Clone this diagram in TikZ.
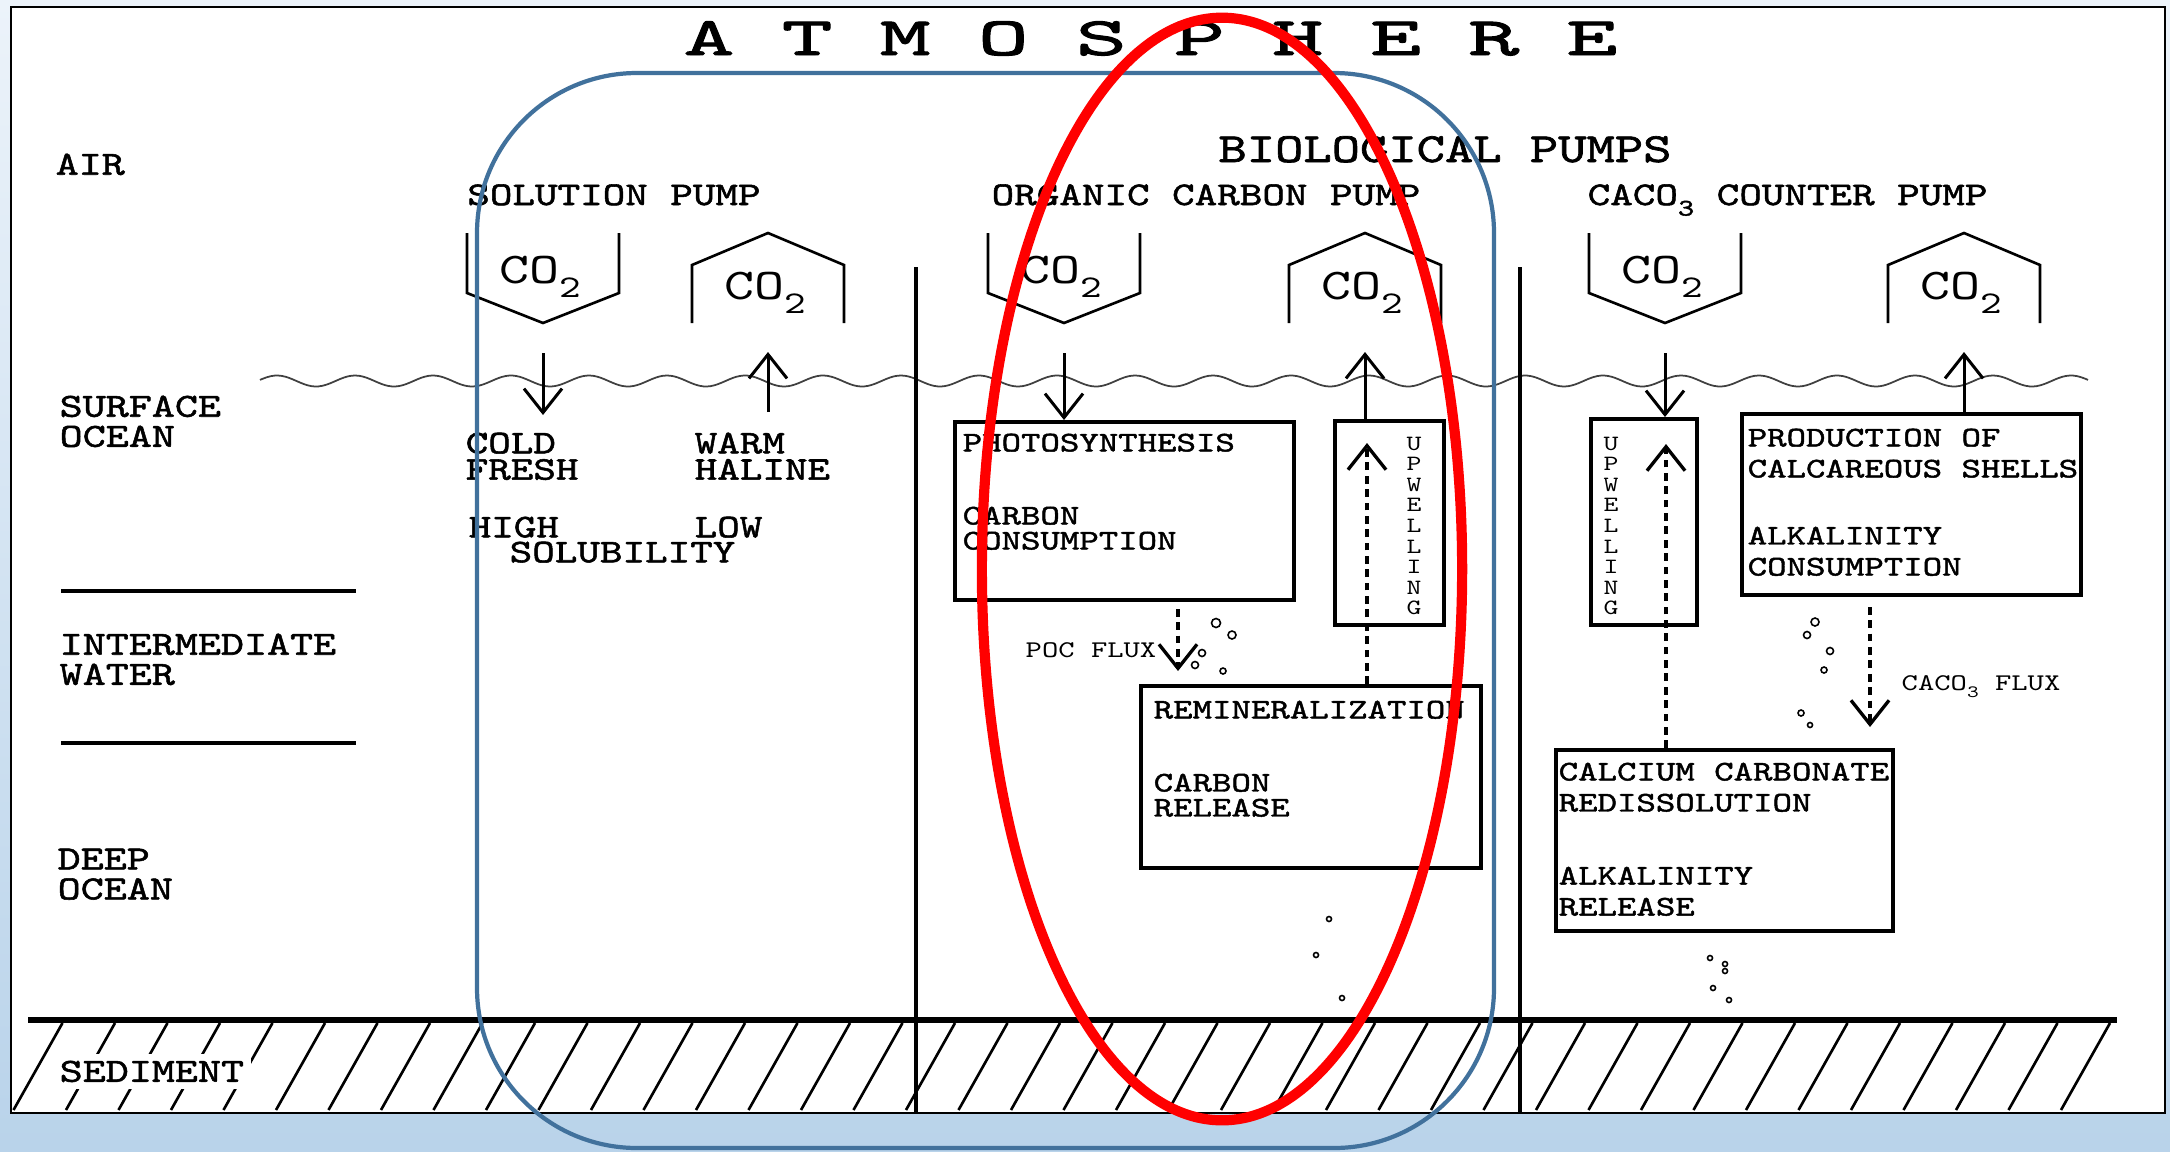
\documentclass[tikz,border=0pt]{standalone}
\usepackage{fontspec}
\usepackage{graphicx}
\usetikzlibrary{arrows.meta}
\newfontfamily\cour[FakeStretch=1.3]{lmmono10-regular.otf}
\newfontfamily\courbf[FakeStretch=1.3, FakeBold=1.6]{lmmono10-regular.otf}
\newfontfamily\courwide[FakeStretch=1.8, FakeBold=1.8]{lmmono10-regular.otf}
\newcommand{\lowsub}[1]{\raisebox{-0.32em}{\scalebox{0.72}{#1}}}
\definecolor{skyback}{RGB}{185,211,234}
\definecolor{skylight}{RGB}{236,243,250}
\definecolor{frameblue}{RGB}{65,113,156}

\begin{document}
\begin{tikzpicture}[x=0.01cm, y=-0.01cm,
  >={Straight Barb[length=0.24cm,width=0.38cm]},
  ttl/.style={font=\courwide\fontsize{15.4}{16}\selectfont, anchor=base, inner sep=0pt},
  layer/.style={font=\courbf\fontsize{9.6}{8.54}\selectfont, align=left, anchor=north west, inner sep=0pt},
  note/.style={font=\courbf\fontsize{9.4}{7.5}\selectfont, align=left, anchor=north west, inner sep=0pt},
  pumplbl/.style={font=\courbf\fontsize{9.4}{10}\selectfont, inner sep=0pt},
  cotxt/.style={font=\cour\fontsize{12.5}{13}\selectfont, inner sep=0pt, anchor=base},
  vessel/.style={line width=0.75pt, line join=miter},
  procbox/.style={draw, line width=1.1pt, anchor=north west, inner sep=0pt},
  boxtxt/.style={font=\courbf\fontsize{8.1}{7.11}\selectfont, align=left, anchor=north west, inner sep=0pt},
  boxtxtw/.style={font=\courbf\fontsize{8.1}{8.82}\selectfont, align=left, anchor=north west, inner sep=0pt},
  vword/.style={font=\cour\fontsize{6.2}{5.86}\selectfont, align=center, anchor=north, inner sep=0pt},
  fluxlbl/.style={font=\cour\fontsize{6.8}{7}\selectfont, inner sep=0pt},
  solidarr/.style={->, line width=0.85pt},
  dasharr/.style={->, line width=0.95pt, dash pattern=on 2.2pt off 1.6pt},
  grain/.style={line width=0.45pt},
  divider/.style={line width=1.2pt},
  hatchline/.style={line width=0.75pt}]
\useasboundingbox (0,0) rectangle (2170,1151);
\shade[top color=skylight, bottom color=skyback] (0,0) rectangle (2170,1151);
\draw[fill=white, line width=0.6pt] (11,7) rectangle (2165,1113);

% title
\foreach \ch [count=\i] in {A,T,M,O,S,P,H,E,R,E}
  \node[ttl] (ttl\i) at ({709+98.1*(\i-1)},55) {\ch};

% layers
\node[layer] (air) at (55,153) {AIR};
\node[layer] (surf) at (59,395) {SURFACE\\OCEAN};
\node[layer] (inter) at (59,633) {INTERMEDIATE\\WATER};
\node[layer] (deep) at (57,848) {DEEP\\OCEAN};
\draw[line width=0.9pt] (61,591) -- (356,591);
\draw[line width=0.9pt] (61,743) -- (356,743);

% pump titles
\node[pumplbl, anchor=base, font=\courbf\fontsize{11.8}{12}\selectfont] (biopump) at (1445,162) {BIOLOGICAL PUMPS};
\node[pumplbl, anchor=base] (solpump) at (614,205) {SOLUTION PUMP};
\node[pumplbl, anchor=base] (orgpump) at (1206,205) {ORGANIC CARBON PUMP};
\node[pumplbl, anchor=base west] (calpump) at (1587,205) {CACO\lowsub{3} COUNTER PUMP};

% CO2 vessels
\foreach \cx/\nm in {543/solin,1064/orgin,1665/calin}{
  \draw[vessel] ({\cx-76},233) -- ({\cx-76},293) -- (\cx,323) -- ({\cx+76},293) -- ({\cx+76},233);
  \node[cotxt] (\nm) at ({\cx-3},283) {CO\lowsub{2}};
}
\foreach \cx/\nm in {768/solout,1365/orgout,1964/calout}{
  \draw[vessel] ({\cx-76},323) -- ({\cx-76},265) -- (\cx,233) -- ({\cx+76},265) -- ({\cx+76},323);
  \node[cotxt] (\nm) at ({\cx-3},299) {CO\lowsub{2}};
}

% sea surface
\draw[line width=0.5pt, black!75] plot[domain=260:2088, samples=500, smooth] (\x,{381-5.5*cos(((\x-277)/78)*360)});

% dividers
\draw[divider] (916,267) -- (916,1113);
\draw[divider] (1520,267) -- (1520,1113);

% solution pump
\coordinate (solin-a) at (543,353);
\coordinate (solin-b) at (543,415);
\draw[solidarr] (solin-a) -- (solin-b);
\coordinate (solout-a) at (768,412);
\coordinate (solout-b) at (768,352);
\draw[solidarr] (solout-a) -- (solout-b);
\node[note] (cold) at (465,432) {COLD\\FRESH};
\node[note] (warm) at (694,432) {WARM\\HALINE};
\node[note] (high) at (468,516) {HIGH};
\node[note] (low) at (694,516) {LOW};
\node[note] (solub) at (509,541) {SOLUBILITY};

% organic carbon pump
\node[procbox, minimum width=3.39cm, minimum height=1.78cm] (photo) at (953,420) {};
\node[boxtxt] (photo-t) at (962,433) {PHOTOSYNTHESIS\\[0.48cm]CARBON\\CONSUMPTION};
\node[procbox, minimum width=1.09cm, minimum height=2.04cm] (upw1) at (1333,419) {};
\node[vword] (upw1-t) at (1414,436) {U\\P\\W\\E\\L\\L\\I\\N\\G};
\node[procbox, minimum width=3.40cm, minimum height=1.82cm] (remin) at (1139,684) {};
\node[boxtxt] (remin-t) at (1153,700) {REMINERALIZATION\\[0.48cm]CARBON\\RELEASE};
\coordinate (orgin-a) at (1064,353);
\draw[solidarr] (orgin-a) -- (orgin-a |- photo.north);
\coordinate (orgout-b) at (1365,352);
\draw[solidarr] (orgout-b |- upw1.north) -- (orgout-b);
\coordinate (upw1-tip) at (1367,443);
\draw[dasharr] (upw1-tip |- remin.north) -- (upw1-tip);
\coordinate (poc-a) at (1178,609);
\coordinate (poc-b) at (1178,671);
\draw[dasharr] (poc-a) -- (poc-b);
\node[fluxlbl, anchor=east] (poc) at (1157,650) {POC FLUX};

% CaCO3 counter pump
\node[procbox, minimum width=1.06cm, minimum height=2.06cm] (upw2) at (1589,417) {};
\node[vword] (upw2-t) at (1611,436) {U\\P\\W\\E\\L\\L\\I\\N\\G};
\node[procbox, minimum width=3.39cm, minimum height=1.81cm] (prod) at (1740,412) {};
\node[boxtxtw] (prod-t) at (1747,428) {PRODUCTION OF\\CALCAREOUS SHELLS\\[0.36cm]ALKALINITY\\CONSUMPTION};
\node[procbox, minimum width=3.37cm, minimum height=1.81cm] (calc) at (1554,748) {};
\node[boxtxtw] (calc-t) at (1558,762) {CALCIUM CARBONATE\\REDISSOLUTION\\[0.42cm]ALKALINITY\\RELEASE};
\coordinate (calin-a) at (1665,353);
\draw[solidarr] (calin-a) -- (calin-a |- upw2.north);
\coordinate (calout-b) at (1964,352);
\draw[solidarr] (calout-b |- prod.north) -- (calout-b);
\coordinate (upw2-tip) at (1666,444);
\draw[dasharr] (upw2-tip |- calc.north) -- (upw2-tip);
\coordinate (cflux-a) at (1870,607);
\coordinate (cflux-b) at (1870,727);
\draw[dasharr] (cflux-a) -- (cflux-b);
\node[fluxlbl, anchor=base west] (cflux) at (1901,690) {CACO\lowsub{3} FLUX};

% sinking particles
\foreach \px/\py/\r in {1216/623/4.5, 1232/635/4, 1202/653/3.5, 1195/665/3.5, 1223/671/3,
    1815/622/4, 1807/635/3.5, 1830/651/3.5, 1824/670/3, 1801/713/3, 1810/725/2.5,
    1329/919/2.5, 1316/955/2.5, 1342/998/2.5,
    1710/958/2.5, 1725/964/2.5, 1725/971/2.5, 1713/988/2.5, 1729/1000/2.5}
  \draw[grain] (\px,\py) circle[radius={\r*0.1mm}];

% sediment
\foreach \k in {0,...,39}
  \draw[hatchline] ({62.5+52.5*\k},1023) -- ++(-49,87);
\draw[line width=1.7pt] (28,1020) -- (2117,1020);
\node[layer, fill=white, inner sep=2pt] (sed) at (52,1053) {SEDIMENT};

% highlights
\draw[frameblue, line width=1.2pt, rounded corners=1.6cm] (477,73) rectangle (1494,1148);
\draw[red, line width=2.9pt] (1222,569) ellipse [x radius=2.4cm, y radius=5.51cm];
\end{tikzpicture}
\end{document}
